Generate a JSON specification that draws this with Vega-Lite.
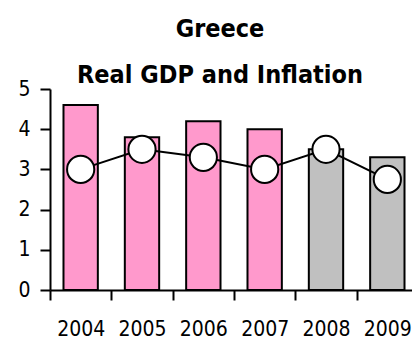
{
  "$schema": "https://vega.github.io/schema/vega-lite/v6.json",
  "width": 362,
  "height": 201,
  "autosize": "none",
  "padding": {"left": 50, "top": 89, "right": 0, "bottom": 55},
  "background": "white",
  "title": {
    "text": ["Greece", "Real GDP and Inflation"],
    "font": "DejaVu Sans Condensed",
    "fontSize": 25,
    "fontWeight": "bold",
    "color": "black",
    "lineHeight": 46,
    "anchor": "middle",
    "dx": -11,
    "offset": -10
  },
  "data": {
    "values": [
      {"year": "2004", "gdp": 4.6, "inflation": 3.0, "type": "actual"},
      {"year": "2005", "gdp": 3.8, "inflation": 3.5, "type": "actual"},
      {"year": "2006", "gdp": 4.2, "inflation": 3.3, "type": "actual"},
      {"year": "2007", "gdp": 4.0, "inflation": 3.0, "type": "actual"},
      {"year": "2008", "gdp": 3.5, "inflation": 3.5, "type": "forecast"},
      {"year": "2009", "gdp": 3.3, "inflation": 2.75, "type": "forecast"}
    ]
  },
  "encoding": {
    "x": {
      "field": "year",
      "type": "ordinal",
      "scale": {"paddingInner": 0, "paddingOuter": 0, "range": [0, 368]},
      "axis": {
        "title": null,
        "labelAngle": 0,
        "labelFont": "DejaVu Sans Condensed",
        "labelFontSize": 21,
        "labelColor": "black",
        "labelPadding": 18,
        "tickBand": "extent",
        "tickSize": 10,
        "tickColor": "black",
        "tickWidth": 2,
        "domainColor": "black",
        "domainWidth": 2,
        "grid": false
      }
    }
  },
  "layer": [
    {
      "mark": {"type": "bar", "width": {"band": 0.56}, "stroke": "black", "strokeWidth": 2},
      "encoding": {
        "y": {
          "field": "gdp",
          "type": "quantitative",
          "scale": {"domain": [0, 5], "nice": false},
          "axis": {
            "title": null,
            "values": [0, 1, 2, 3, 4, 5],
            "labelFont": "DejaVu Sans Condensed",
            "labelFontSize": 21,
            "labelColor": "black",
            "labelPadding": 10,
            "tickSize": 10,
            "tickColor": "black",
            "tickWidth": 2,
            "domainColor": "black",
            "domainWidth": 2,
            "grid": false
          }
        },
        "color": {
          "field": "type",
          "type": "nominal",
          "scale": {"domain": ["actual", "forecast"], "range": ["#FF99CC", "#C0C0C0"]},
          "legend": null
        }
      }
    },
    {
      "mark": {"type": "line", "color": "black", "strokeWidth": 2},
      "encoding": {
        "y": {"field": "inflation", "type": "quantitative"}
      }
    },
    {
      "mark": {"type": "point", "shape": "circle", "filled": true, "fill": "white", "stroke": "black", "strokeWidth": 2, "size": 740, "opacity": 1},
      "encoding": {
        "y": {"field": "inflation", "type": "quantitative"}
      }
    }
  ],
  "config": {
    "view": {"stroke": null}
  }
}
